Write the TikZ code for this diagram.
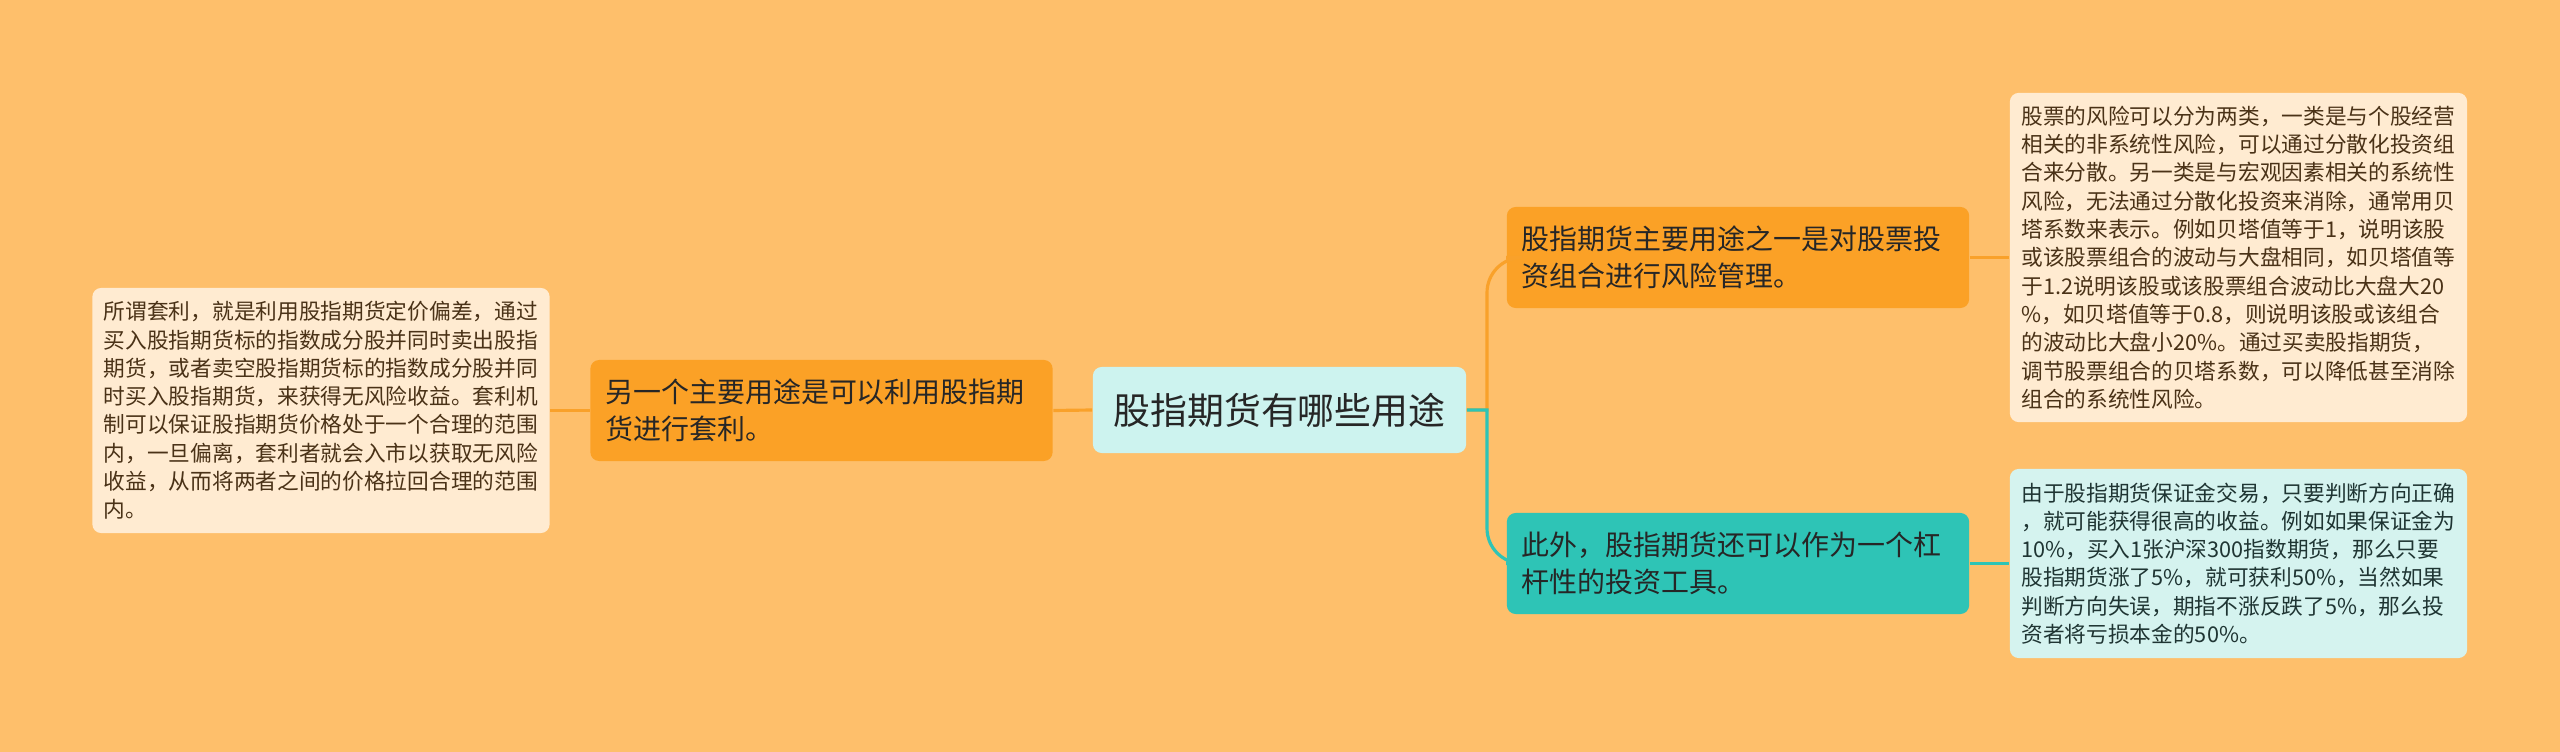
\documentclass[tikz,border=0pt]{standalone}
\usepackage{fontspec}
\setmainfont{Noto Sans CJK SC}
\usepackage{tikz}
\usetikzlibrary{positioning}
\definecolor{PageBg}{HTML}{FEBF6B}
\definecolor{BranchOrange}{HTML}{FBA126}
\definecolor{BranchTeal}{HTML}{2EC4B6}
\definecolor{RootFill}{HTML}{CDF3EF}
\definecolor{LeafCream}{HTML}{FFEBD1}
\definecolor{LeafMint}{HTML}{D5F3EF}
\definecolor{LineOrange}{HTML}{F9A12A}
\definecolor{InkDark}{HTML}{262626}
\definecolor{InkBrown}{HTML}{4A3217}
\definecolor{InkTeal}{HTML}{1F3533}
\newcommand{\mmroot}[3]{\node[fill=RootFill,rounded corners=2.5pt,
  minimum width=3.73cm,minimum height=0.86cm,align=center,inner sep=0pt,
  font=\fontsize{10.5pt}{12pt}\selectfont,text=InkDark] (#1) at #2 {#3};}
\newcommand{\mmbranch}[4]{\node[fill=#4,rounded corners=2.5pt,
  minimum width=4.62cm,minimum height=1.01cm,text width=4.32cm,align=left,
  inner sep=0pt,font=\fontsize{7.95pt}{10.4pt}\selectfont,text=InkDark] (#1) at #2 {#3};}
\newcommand{\mmleaf}[5]{\node[fill=#4,rounded corners=2.5pt,
  minimum width=4.57cm,minimum height=#5,text width=4.34cm,align=left,
  inner sep=0pt,font=\fontsize{6.17pt}{8.05pt}\selectfont,text=InkBrown] (#1) at #2 {#3};}

\begin{document}
\begin{tikzpicture}[
  x=0.01cm, y=-0.01cm,
  oline/.style={draw=LineOrange, line width=0.9pt},
  tline/.style={draw=BranchTeal, line width=0.9pt},
]

% Page
\fill[PageBg] (0,0) rectangle (2560,752);
\useasboundingbox (0,0) rectangle (2560,752);

%% ── Root ─────────────────────────────────────────────────────────────────
\mmroot{root}{(1279.5,410)}{股指期货有哪些用途}

%% ── Left: arbitrage ──────────────────────────────────────────────────────
\mmbranch{arb}{(821.5,410.5)}{另一个主要用途是可以利用股指期\\货进行套利。}{BranchOrange}
\mmleaf{arbnote}{(321,410.5)}{所谓套利，就是利用股指期货定价偏差，通过\\
买入股指期货标的指数成分股并同时卖出股指\\
期货，或者卖空股指期货标的指数成分股并同\\
时买入股指期货，来获得无风险收益。套利机\\
制可以保证股指期货价格处于一个合理的范围\\
内，一旦偏离，套利者就会入市以获取无风险\\
收益，从而将两者之间的价格拉回合理的范围\\
内。}{LeafCream}{2.45cm}

\draw[oline] (root.west) -- (arb.east);
\draw[oline] (arb.west) -- (arbnote.east);

%% ── Right top: risk management ───────────────────────────────────────────
\mmbranch{risk}{(1738,257.5)}{股指期货主要用途之一是对股票投\\资组合进行风险管理。}{BranchOrange}
\mmleaf{risknote}{(2238.5,257.5)}{股票的风险可以分为两类，一类是与个股经营\\
相关的非系统性风险，可以通过分散化投资组\\
合来分散。另一类是与宏观因素相关的系统性\\
风险，无法通过分散化投资来消除，通常用贝\\
塔系数来表示。例如贝塔值等于1，说明该股\\
或该股票组合的波动与大盘相同，如贝塔值等\\
于1.2说明该股或该股票组合波动比大盘大20\\
\%，如贝塔值等于0.8，则说明该股或该组合\\
的波动比大盘小20\%。通过买卖股指期货，\\
调节股票组合的贝塔系数，可以降低甚至消除\\
组合的系统性风险。}{LeafCream}{3.29cm}

%% ── Right bottom: leverage ───────────────────────────────────────────────
\mmbranch{lev}{(1738,563.5)}{此外，股指期货还可以作为一个杠\\杆性的投资工具。}{BranchTeal}
\node[fill=LeafMint,rounded corners=2.5pt,minimum width=4.57cm,minimum height=1.89cm,
  text width=4.34cm,align=left,inner sep=0pt,
  font=\fontsize{6.17pt}{8.05pt}\selectfont,text=InkTeal] (levnote) at (2238.5,563.5)
  {由于股指期货保证金交易，只要判断方向正确\\
，就可能获得很高的收益。例如如果保证金为\\
10\%，买入1张沪深300指数期货，那么只要\\
股指期货涨了5\%，就可获利50\%，当然如果\\
判断方向失误，期指不涨反跌了5\%，那么投\\
资者将亏损本金的50\%。};

%% ── Connectors on the right ──────────────────────────────────────────────
\coordinate (fork) at (1487,410);
\draw[oline] (root.east) -- (fork) [rounded corners=10] |- (risk.west);
\draw[tline] (root.east) -- (fork) [rounded corners=10] |- (lev.west);
\draw[oline] (risk.east) -- (risknote.west);
\draw[tline] (lev.east) -- (levnote.west);

\end{tikzpicture}
\end{document}
